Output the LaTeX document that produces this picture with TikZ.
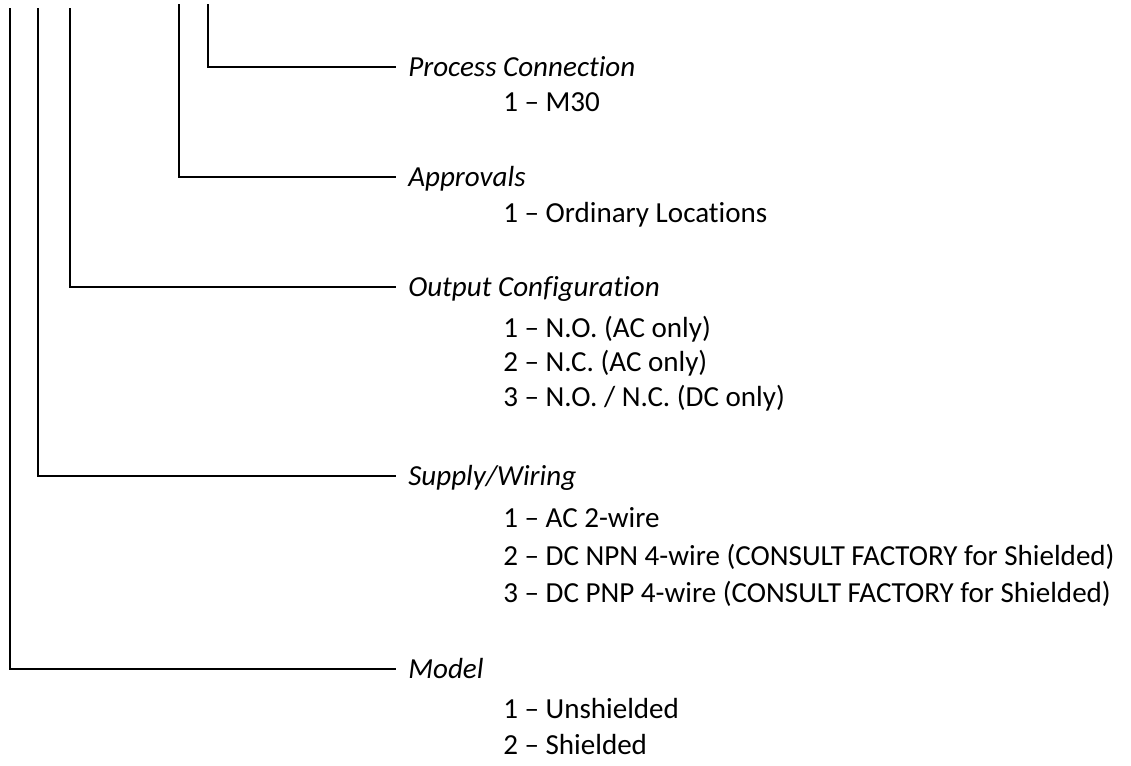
\documentclass[tikz,border=0pt]{standalone}
\usepackage{fontspec}
\setmainfont{Carlito}[Ligatures=NoCommon]
\usetikzlibrary{positioning}

\begin{document}
\begin{tikzpicture}[x=0.75pt, y=-0.75pt,
    field/.style={anchor=base west, inner xsep=9pt, inner ysep=0pt, text height=15pt, text depth=2pt, font=\fontsize{21.8}{26}\selectfont\itshape},
    option/.style={anchor=base west, inner sep=0pt, font=\fontsize{21.8}{26}\selectfont},
    lead/.style={line width=1.5pt}]
    \useasboundingbox (0,0) rectangle (1131,765);

    % tops of the code columns
    \coordinate (tmodel) at (10,8);
    \coordinate (tsupply) at (38,8);
    \coordinate (toutput) at (70,8);
    \coordinate (tapprov) at (179,4);
    \coordinate (tproc) at (208,4);

    \node (proc) [field] at (396,76) {Process Connection};
    \node (proc1) [option] at (503,111) {1 – M30};

    \node (approv) [field] at (396,186) {Approvals};
    \node (approv1) [option] at (503,222) {1 – Ordinary Locations};

    \node (output) [field] at (396,296) {Output Configuration};
    \node (output1) [option] at (503,337) {1 – N.O. (AC only)};
    \node (output2) [option] at (503,371) {2 – N.C. (AC only)};
    \node (output3) [option] at (503,406) {3 – N.O. / N.C. (DC only)};

    \node (supply) [field] at (396,485) {Supply/Wiring};
    \node (supply1) [option] at (503,527) {1 – AC 2-wire};
    \node (supply2) [option] at (503,565) {2 – DC NPN 4-wire (CONSULT FACTORY for Shielded)};
    \node (supply3) [option] at (503,602) {3 – DC PNP 4-wire (CONSULT FACTORY for Shielded)};

    \node (model) [field] at (396,678) {Model};
    \node (model1) [option] at (503,718) {1 – Unshielded};
    \node (model2) [option] at (503,754) {2 – Shielded};

    \draw [lead] (tproc) |- (proc.west);
    \draw [lead] (tapprov) |- (approv.west);
    \draw [lead] (toutput) |- (output.west);
    \draw [lead] (tsupply) |- (supply.west);
    \draw [lead] (tmodel) |- (model.west);
\end{tikzpicture}
\end{document}
